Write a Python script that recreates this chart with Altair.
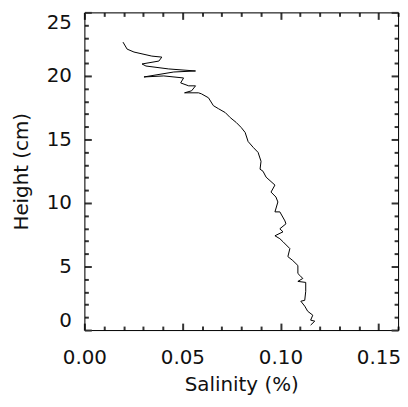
import altair as alt
import pandas as pd

# Salinity profile (salinity in %, height in cm), top to bottom
salinity = [0.0197, 0.0218, 0.0253, 0.0344, 0.0395, 0.0380, 0.0294, 0.0314, 0.0430, 0.0567,
            0.0456, 0.0304, 0.0405, 0.0506, 0.0491, 0.0532, 0.0567, 0.0547, 0.0511, 0.0582,
            0.0597, 0.0633, 0.0658, 0.0684, 0.0719, 0.0744, 0.0775, 0.0800, 0.0820, 0.0835,
            0.0861, 0.0886, 0.0901, 0.0896, 0.0911, 0.0927, 0.0972, 0.0952, 0.0977, 0.0987,
            0.0972, 0.0997, 0.1023, 0.1028, 0.0997, 0.1013, 0.0972, 0.0997, 0.1013, 0.1048,
            0.1038, 0.1063, 0.1089, 0.1089, 0.1099, 0.1114, 0.1089, 0.1129, 0.1129, 0.1124,
            0.1104, 0.1124, 0.1139, 0.1165, 0.1154, 0.1175, 0.1154]
height = [22.66, 22.11, 21.88, 21.56, 21.48, 21.17, 20.94, 20.78, 20.55, 20.39,
          20.31, 19.92, 20.00, 19.84, 19.45, 19.22, 19.22, 18.83, 18.67, 18.67,
          18.59, 18.28, 17.66, 17.42, 17.11, 16.72, 16.33, 15.94, 15.55, 14.84,
          14.38, 13.98, 13.28, 12.66, 12.50, 12.03, 11.41, 10.86, 10.47, 10.08,
          9.30, 9.30, 8.59, 8.36, 7.97, 7.73, 7.42, 7.19, 6.95, 6.41,
          5.78, 5.47, 5.08, 4.45, 4.30, 4.06, 3.83, 3.75, 3.05, 2.34,
          2.27, 1.88, 1.48, 1.17, 0.78, 0.70, 0.39]

x_ticks = [round(i * 0.01, 2) for i in range(17)]
y_ticks = list(range(26))
x_title = "Salinity (%)"
y_title = "Height (cm)"

df = pd.DataFrame({"salinity": salinity, "height": height, "idx": list(range(len(salinity)))})

FONT = "DejaVu Sans"
W, H = 316, 320
XMAJ = "abs(datum.value*20 - round(datum.value*20)) < 0.000001"
YMAJ = "datum.value % 5 === 0"
TICK = dict(tickColor="#333", tickWidth=2)

xscale = alt.Scale(domain=[0, 0.16], nice=False)
yscale = alt.Scale(domain=[0, 25], nice=False)

text_style = dict(labelFont=FONT, labelFontSize=20, labelColor="#111",
                  titleFont=FONT, titleFontSize=20, titleColor="#111",
                  titleFontWeight="normal", labelOverlap=False)

# Ticks point inward: every axis uses the opposite orient and is moved across the plot.
line = alt.Chart(df).mark_line(color="black", strokeWidth=1).encode(
    x=alt.X("salinity:Q", scale=xscale,
            axis=alt.Axis(values=x_ticks, title=x_title, orient="top", offset=-H,
                          labelExpr=f"{XMAJ} ? format(datum.value, '.2f') : ''",
                          tickSize={"expr": f"{XMAJ} ? 7 : 4"},
                          domainColor="black", grid=False,
                          labelPadding=-25, labelBaseline="top", labelFlush=False,
                          titleX=W / 2, titleY=55, titleBaseline="middle",
                          **TICK, **text_style)),
    y=alt.Y("height:Q", scale=yscale,
            axis=alt.Axis(values=y_ticks, title=y_title, orient="right", offset=-W,
                          labelExpr=f"{YMAJ} ? datum.label : ''",
                          tickSize={"expr": f"{YMAJ} ? 7 : 4"},
                          domainColor="black", grid=False,
                          labelPadding=-20, labelAlign="right", labelFlush=True,
                          titleAngle=270, titleX=-63, titleY=H / 2,
                          titleBaseline="middle", **TICK, **text_style)),
    order="idx:Q",
)

frame = alt.Chart(df).mark_line(opacity=0).encode(
    x=alt.X("salinity:Q", scale=xscale,
            axis=alt.Axis(values=x_ticks, title=None, orient="bottom", offset=-H,
                          labels=False, tickSize={"expr": f"{XMAJ} ? 7 : 4"},
                          domainColor="black", grid=False, **TICK)),
    y=alt.Y("height:Q", scale=yscale,
            axis=alt.Axis(values=y_ticks, title=None, orient="left", offset=-W,
                          labels=False, tickSize={"expr": f"{YMAJ} ? 7 : 4"},
                          domainColor="black", grid=False, **TICK)),
)

chart = alt.layer(line, frame).resolve_scale(x="independent", y="independent").properties(
    width=W, height=H,
    padding={"left": 12, "top": 10, "right": 7, "bottom": 8},
)

chart.save("out.html", embed_options={"renderer": "svg", "actions": False})
